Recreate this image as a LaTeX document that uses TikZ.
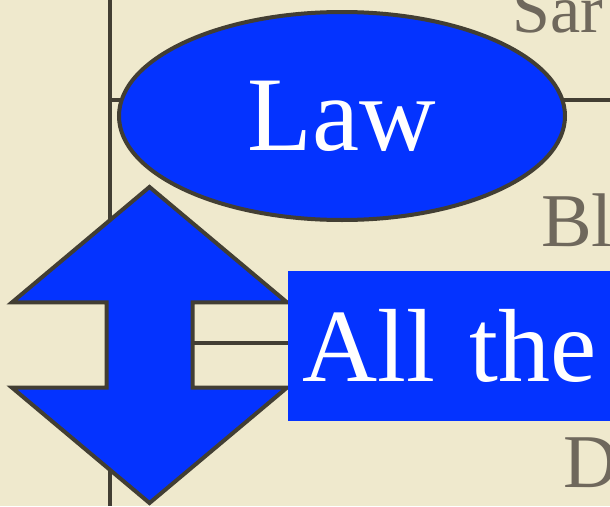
\documentclass[tikz,border=0pt]{standalone}
\usepackage{fontspec}
\setmainfont{Liberation Serif}
\usetikzlibrary{positioning,shapes.geometric,shapes.arrows}
\definecolor{slidebg}{HTML}{EFE9CD}
\definecolor{inkdark}{HTML}{423E33}
\definecolor{inkgrey}{HTML}{6F685C}
\definecolor{keyblue}{HTML}{0433FF}
\pgfdeclarelayer{paper}
\pgfdeclarelayer{wires}
\pgfsetlayers{paper,wires,main}
\tikzset{
  kb/.style={fill=keyblue, text=white, inner sep=0pt},
  kb law/.style={kb, ellipse, draw=inkdark, line width=4pt, minimum width=446pt, minimum height=208pt,
                 font=\fontsize{106}{110}\selectfont},
  kb box/.style={kb, anchor=west, minimum height=150pt, text width=380pt, inner xsep=14pt, align=left,
                 font=\fontsize{104}{108}\selectfont},
  kb updown/.style={kb, double arrow, shape border rotate=90, draw=inkdark, line width=4pt, inner sep=41pt,
                    minimum height=316pt, minimum width=275pt, double arrow head extend=94.5pt,
                    double arrow tip angle=100},
  kb link/.style={draw=inkdark, line width=3.5pt},
  kb side/.style={text=inkgrey, inner sep=0pt, anchor=base west},
}
\begin{document}
\begin{tikzpicture}[x=1pt, y=-1pt]
  \begin{pgfonlayer}{paper}
    \fill[slidebg] (0,0) rectangle (610,506);
  \end{pgfonlayer}
  \useasboundingbox (0,0) rectangle (610,506);
  \clip (0,0) rectangle (610,506);
  % the blue shapes
  \node[kb law] (law) at (342,116) {Law};
  \node[kb updown] (updown) at (149.5,345) {};
  \node[kb box] (all) at (288,346) {All the};
  % grey labels cut by the edge of the slide
  \node[kb side, font=\fontsize{68}{70}\selectfont] (sar) at (512,32) {Sar};
  \node[kb side, font=\fontsize{76}{80}\selectfont] (bl) at (541,246) {Bl};
  \node[kb side, font=\fontsize{76}{80}\selectfont] (dd) at (563,487) {D};
  % tree lines, under the shapes
  \coordinate (ttop) at (110,0);
  \coordinate (tbot) at (110,506);
  \coordinate (lawrow) at (110,100);
  \coordinate (rim) at (610,100);
  \begin{pgfonlayer}{wires}
    \draw[kb link] (ttop) -- (tbot);
    \draw[kb link] (lawrow) -- (rim);
    \draw[kb link] ([yshift=2pt]updown.center) -- ([yshift=2pt]updown.center -| all.west);
  \end{pgfonlayer}
\end{tikzpicture}
\end{document}
